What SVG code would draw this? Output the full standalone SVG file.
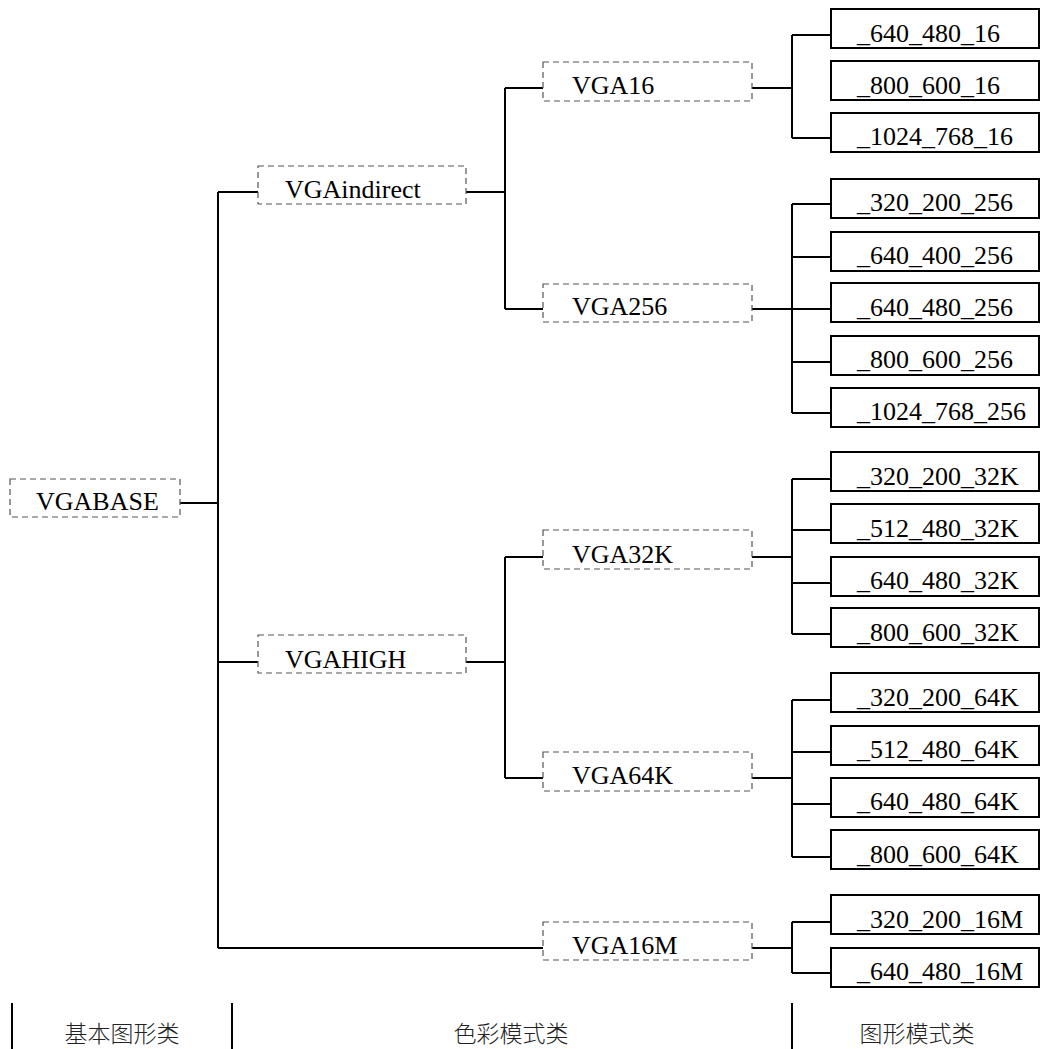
<svg xmlns="http://www.w3.org/2000/svg" width="1043" height="1049" viewBox="0 0 1043 1049">
<style>
.dbox{fill:#fff;stroke:#555;stroke-width:1.2;stroke-dasharray:6 4}
.sbox{fill:#fff;stroke:#000;stroke-width:2}
.t{font-family:"Liberation Serif","Times New Roman",serif;font-size:26px;fill:#000}
.c{fill:none;stroke:#000;stroke-width:2}
.cjk{font-family:"Noto Sans CJK SC","Noto Sans",sans-serif;font-size:23px;font-weight:300;fill:#222;text-anchor:middle}
</style>
<rect width="1043" height="1049" fill="#fff"/>
<g id="connectors">
<path class="c" d="M180 503H218M218 192V948M218 192H258M218 662H258M218 948H543"/>
<path class="c" d="M466 192H505M505 88V309M505 88H543M505 309H543"/>
<path class="c" d="M466 662H505M505 557V778M505 557H543M505 778H543"/>
<path class="c" d="M752 88H792M792 35V138M792 35H831M792 138H831"/>
<path class="c" d="M752 309H831M792 204V413M792 204H831M792 257H831M792 362H831M792 413H831"/>
<path class="c" d="M752 557H792M792 479V634M792 479H831M792 530H831M792 583H831M792 634H831"/>
<path class="c" d="M752 778H792M792 700V857M792 700H831M792 752H831M792 804H831M792 857H831"/>
<path class="c" d="M752 948H792M792 922V973M792 922H831M792 973H831"/>
<path class="c" d="M12 1003V1049M232 1003V1049M792 1003V1049" stroke-width="1.5"/>
</g>
<g id="VGABASE"><rect class="dbox" x="10" y="479" width="170" height="38"/><text class="t" x="36" y="510">VGABASE</text></g>
<g id="VGAindirect"><rect class="dbox" x="258" y="166" width="208" height="38"/><text class="t" x="285" y="198">VGAindirect</text></g>
<g id="VGAHIGH"><rect class="dbox" x="258" y="635" width="208" height="38"/><text class="t" x="285" y="668">VGAHIGH</text></g>
<g id="VGA16"><rect class="dbox" x="543" y="62" width="209" height="39"/><text class="t" x="572" y="94">VGA16</text></g>
<g id="VGA256"><rect class="dbox" x="543" y="284" width="209" height="38"/><text class="t" x="572" y="315">VGA256</text></g>
<g id="VGA32K"><rect class="dbox" x="543" y="530" width="209" height="39"/><text class="t" x="572" y="563">VGA32K</text></g>
<g id="VGA64K"><rect class="dbox" x="543" y="752" width="209" height="39"/><text class="t" x="572" y="784">VGA64K</text></g>
<g id="VGA16M"><rect class="dbox" x="543" y="922" width="209" height="38"/><text class="t" x="572" y="954">VGA16M</text></g>
<g id="m640_480_16"><rect class="sbox" x="831" y="9" width="208" height="39"/><text class="t" x="857" y="42">_640_480_16</text></g>
<g id="m800_600_16"><rect class="sbox" x="831" y="61" width="208" height="39"/><text class="t" x="857" y="94">_800_600_16</text></g>
<g id="m1024_768_16"><rect class="sbox" x="831" y="113" width="208" height="39"/><text class="t" x="857" y="145">_1024_768_16</text></g>
<g id="m320_200_256"><rect class="sbox" x="831" y="179" width="208" height="39"/><text class="t" x="857" y="211">_320_200_256</text></g>
<g id="m640_400_256"><rect class="sbox" x="831" y="232" width="208" height="39"/><text class="t" x="857" y="264">_640_400_256</text></g>
<g id="m640_480_256"><rect class="sbox" x="831" y="283" width="208" height="39"/><text class="t" x="857" y="316">_640_480_256</text></g>
<g id="m800_600_256"><rect class="sbox" x="831" y="336" width="208" height="39"/><text class="t" x="857" y="368">_800_600_256</text></g>
<g id="m1024_768_256"><rect class="sbox" x="831" y="388" width="208" height="39"/><text class="t" x="857" y="420">_1024_768_256</text></g>
<g id="m320_200_32K"><rect class="sbox" x="831" y="452" width="208" height="39"/><text class="t" x="857" y="485">_320_200_32K</text></g>
<g id="m512_480_32K"><rect class="sbox" x="831" y="504" width="208" height="39"/><text class="t" x="857" y="537">_512_480_32K</text></g>
<g id="m640_480_32K"><rect class="sbox" x="831" y="557" width="208" height="39"/><text class="t" x="857" y="589">_640_480_32K</text></g>
<g id="m800_600_32K"><rect class="sbox" x="831" y="608" width="208" height="39"/><text class="t" x="857" y="641">_800_600_32K</text></g>
<g id="m320_200_64K"><rect class="sbox" x="831" y="673" width="208" height="39"/><text class="t" x="857" y="706">_320_200_64K</text></g>
<g id="m512_480_64K"><rect class="sbox" x="831" y="726" width="208" height="39"/><text class="t" x="857" y="758">_512_480_64K</text></g>
<g id="m640_480_64K"><rect class="sbox" x="831" y="778" width="208" height="39"/><text class="t" x="857" y="810">_640_480_64K</text></g>
<g id="m800_600_64K"><rect class="sbox" x="831" y="830" width="208" height="39"/><text class="t" x="857" y="863">_800_600_64K</text></g>
<g id="m320_200_16M"><rect class="sbox" x="831" y="895" width="208" height="39"/><text class="t" x="857" y="928">_320_200_16M</text></g>
<g id="m640_480_16M"><rect class="sbox" x="831" y="948" width="208" height="39"/><text class="t" x="857" y="980">_640_480_16M</text></g>
<g id="labels">
<text class="cjk" x="122" y="1042">基本图形类</text>
<text class="cjk" x="511" y="1042">色彩模式类</text>
<text class="cjk" x="917" y="1042">图形模式类</text>
</g>
</svg>
